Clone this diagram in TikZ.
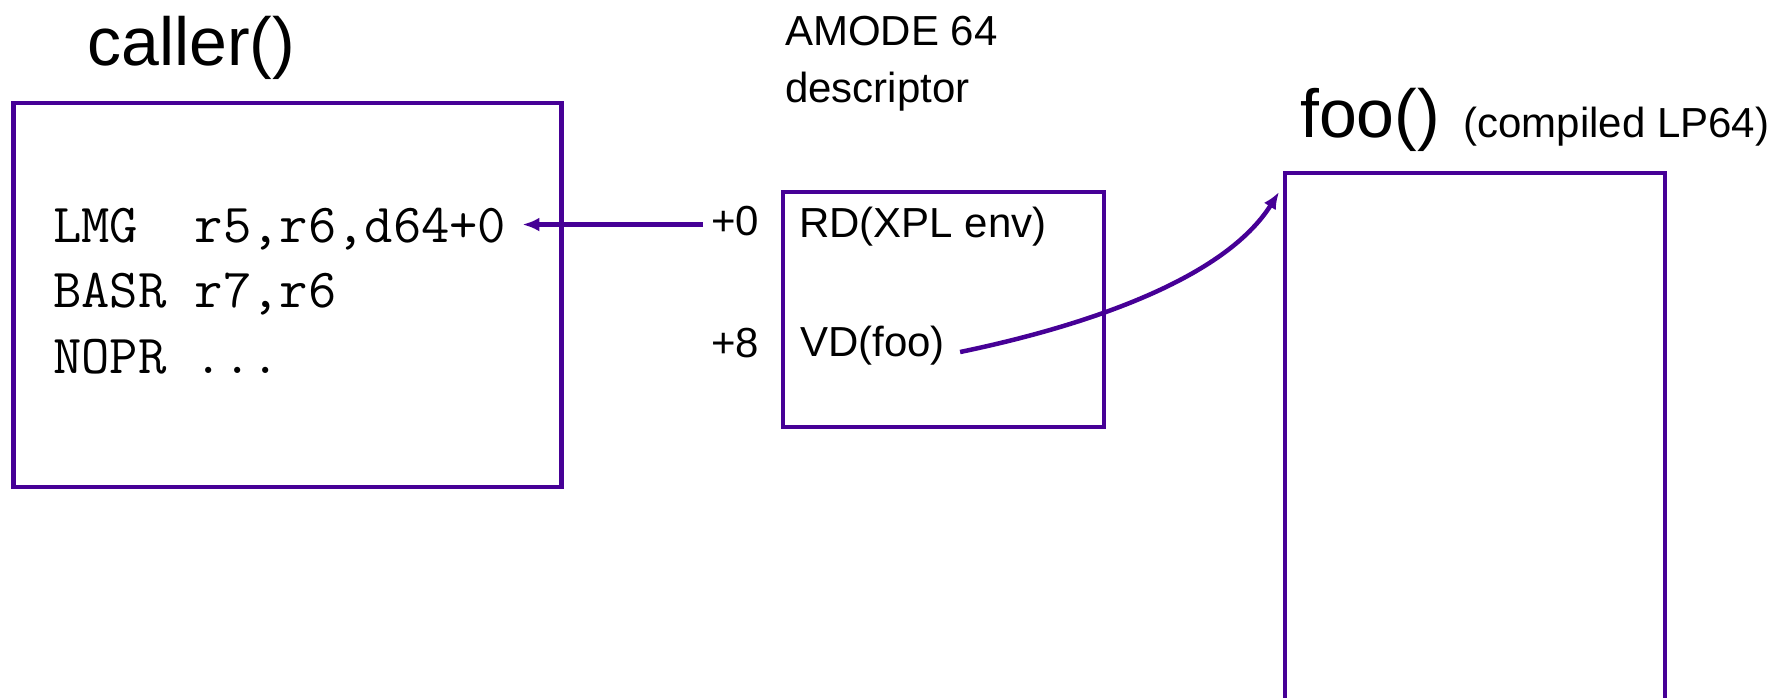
\documentclass[tikz,border=0pt]{standalone}
\usepackage{fontspec}
\setmainfont{Liberation Sans}
\usepackage{xcolor}
\usetikzlibrary{arrows.meta,positioning,calc}
\definecolor{framepurple}{RGB}{70,0,150}

\begin{document}
\begin{tikzpicture}[
    x=1pt, y=-1pt,
    panel/.style={draw=framepurple, line width=4.5pt, inner sep=0pt},
    asm/.style={font=\fontsize{55}{64}\selectfont\ttfamily, anchor=base west, inner sep=0pt},
    heading/.style={font=\fontsize{68}{80}\selectfont, anchor=base west, inner sep=0pt},
    entry/.style={font=\fontsize{42}{50}\selectfont, anchor=base west, inner sep=0pt},
    link/.style={draw=framepurple, line width=4.5pt, -{Latex[length=17pt,width=14pt]}}
]
\useasboundingbox (0,0) rectangle (1775,697);

% Caller routine
\node[heading] (callertitle) at (87,65) {caller()};
\node[panel, minimum width=548pt, minimum height=384pt] (callerbox) at (287.5,295) {};
\node[asm] (asmlmg) at (53,242) {LMG\ \ r5,r6,d64+0};
\node[asm] (asmbasr) at (53,307) {BASR r7,r6};
\node[asm] (asmnopr) at (53,373) {NOPR ...};

% Descriptor
\node[entry] (amode) at (785,45) {AMODE 64};
\node[entry] (desctitle) at (785,102) {descriptor};
\node[panel, minimum width=321pt, minimum height=235pt] (descbox) at (943.5,309.5) {};
\node[entry] (offzero) at (711,235) {+0};
\node[entry] (offeight) at (711,357) {+8};
\node[entry] (rdxpl) at (799,237) {RD(XPL env)};
\node[entry] (vdfoo) at (800,356) {VD(foo)};

% Called routine
\node[heading] (footitle) at (1300,137) {foo()};
\node[entry, right=23pt of footitle.base east, anchor=base west] (foonote) {(compiled LP64)};
\node[panel, minimum width=380pt, minimum height=554pt] (foobox) at (1475,450) {};
\coordinate (fooentry) at (1279,192);

% Arrows
\draw[link] ($(offzero.west)+(-8,4)$) -- ($(asmlmg.east |- offzero.west)+(16,4)$);
\draw[link] ($(vdfoo.base east)+(15,-4)$) .. controls (1090,325) and (1225,278) .. (fooentry);

\end{tikzpicture}
\end{document}
